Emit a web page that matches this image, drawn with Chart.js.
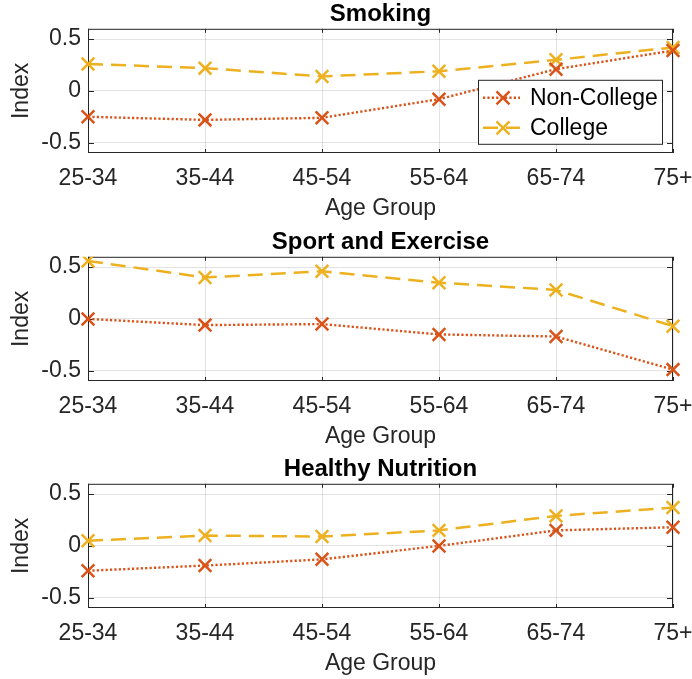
<!DOCTYPE html>
<html>
<head>
<meta charset="utf-8">
<script src="https://cdn.jsdelivr.net/npm/chart.js@4.4.0/dist/chart.umd.min.js"></script>
<style>
    html, body { margin: 0; padding: 0; background: #fff; overflow: hidden; width: 692px; height: 679px; }
    .panel { position: absolute; left: 0; width: 692px; height: 227px; }
</style>
</head>
<body>
<div class="panel" style="top:0px"><canvas id="chart_smoking" width="692" height="227"></canvas></div>
<div class="panel" style="top:228px"><canvas id="chart_sport" width="692" height="227"></canvas></div>
<div class="panel" style="top:455px"><canvas id="chart_nutrition" width="692" height="227"></canvas></div>
<script>
// age groups on the x axis
var ageGroups = ['25-34', '35-44', '45-54', '55-64', '65-74', '75+'];
var yTicks = [-0.5, 0, 0.5];

// Smoking
var smokingNonCollege = [-0.25, -0.28, -0.26, -0.08, 0.21, 0.39];
var smokingCollege = [0.26, 0.22, 0.14, 0.19, 0.30, 0.42];

// Sport and Exercise
var sportNonCollege = [0.00, -0.06, -0.05, -0.15, -0.17, -0.49];
var sportCollege = [0.56, 0.40, 0.46, 0.35, 0.28, -0.07];

// Healthy Nutrition
var nutritionNonCollege = [-0.24, -0.19, -0.13, 0.00, 0.15, 0.18];
var nutritionCollege = [0.05, 0.10, 0.09, 0.15, 0.29, 0.37];

var colNonCollege = '#D95319';
var colCollege = '#EDB120';
var axisColor = '#262626';
var gridColor = 'rgba(38,38,38,0.13)';
var fontFam = '"Liberation Sans", Arial, sans-serif';

// box around the axes + small inward ticks, like matlab
var framePlugin = {
    id: 'frame',
    beforeDatasetsDraw: function (chart) {
        var a = chart.chartArea, ctx = chart.ctx;
        var xs = chart.scales.x, ys = chart.scales.y;
        ctx.save();
        ctx.strokeStyle = axisColor;
        ctx.lineWidth = 1;
        ctx.strokeRect(a.left + 0.5, a.top + 0.5, a.right - a.left - 1, a.bottom - a.top - 1);
        ctx.beginPath();
        yTicks.forEach(function (v) {
            var py = Math.round(ys.getPixelForValue(v)) + 0.5;
            ctx.moveTo(a.left, py); ctx.lineTo(a.left + 6, py);
            ctx.moveTo(a.right, py); ctx.lineTo(a.right - 6, py);
        });
        ageGroups.forEach(function (g, i) {
            var px = Math.round(xs.getPixelForValue(i)) + 0.5;
            ctx.moveTo(px, a.bottom); ctx.lineTo(px, a.bottom - 4);
            ctx.moveTo(px, a.top); ctx.lineTo(px, a.top + 4);
        });
        ctx.stroke();
        ctx.restore();
    }
};

// legend box inside the first panel
var boxLegendPlugin = {
    id: 'boxLegend',
    afterDraw: function (chart, args, opts) {
        if (!opts.show) return;
        var a = chart.chartArea, ctx = chart.ctx;
        var w = 184, h = 64;
        var x0 = a.right - 11 - w, y0 = a.top + 51;
        ctx.save();
        ctx.fillStyle = '#fff';
        ctx.fillRect(x0, y0, w, h);
        ctx.strokeStyle = axisColor;
        ctx.lineWidth = 1;
        ctx.strokeRect(x0 + 0.5, y0 + 0.5, w, h);
        chart.data.datasets.forEach(function (ds, i) {
            var cy = y0 + 18 + i * 30;
            ctx.strokeStyle = ds.borderColor;
            ctx.lineWidth = ds.borderWidth;
            ctx.setLineDash(ds.borderDash);
            ctx.beginPath();
            ctx.moveTo(x0 + 5, cy); ctx.lineTo(x0 + 42, cy);
            ctx.stroke();
            ctx.setLineDash([]);
            var r = 6.5;
            ctx.beginPath();
            ctx.moveTo(x0 + 25 - r, cy - r); ctx.lineTo(x0 + 25 + r, cy + r);
            ctx.moveTo(x0 + 25 - r, cy + r); ctx.lineTo(x0 + 25 + r, cy - r);
            ctx.stroke();
            ctx.fillStyle = '#000';
            ctx.font = '23px ' + fontFam;
            ctx.textBaseline = 'middle';
            ctx.fillText(ds.label, x0 + 52, cy + 1);
        });
        ctx.restore();
    }
};

function makeChart(id, title, nonCollege, college, showLegend) {
    return new Chart(document.getElementById(id), {
        type: 'line',
        data: {
            labels: ageGroups,
            datasets: [{
                label: 'Non-College',
                data: nonCollege,
                borderColor: colNonCollege,
                backgroundColor: colNonCollege,
                borderWidth: 2.4,
                borderDash: [2.2, 2.2],
                pointStyle: 'crossRot',
                pointRadius: 9,
                pointBorderWidth: 2.5,
                fill: false
            }, {
                label: 'College',
                data: college,
                borderColor: colCollege,
                backgroundColor: colCollege,
                borderWidth: 2.5,
                borderDash: [15, 8],
                pointStyle: 'crossRot',
                pointRadius: 9,
                pointBorderWidth: 2.5,
                fill: false
            }]
        },
        options: {
            responsive: false,
            animation: false,
            layout: { autoPadding: false, padding: { left: 0, right: 19, top: 0, bottom: 0 } },
            scales: {
                x: {
                    type: 'category',
                    offset: false,
                    afterFit: function (s) { s.height = 74; s.paddingLeft = 0; s.paddingRight = 0; },
                    grid: { color: gridColor, drawTicks: false, offset: false },
                    border: { display: false },
                    ticks: { color: axisColor, padding: 12, maxRotation: 0, autoSkip: false, font: { family: fontFam, size: 23 } },
                    title: { display: true, text: 'Age Group', color: axisColor, padding: { top: 0, bottom: 5 }, font: { family: fontFam, size: 23 } }
                },
                y: {
                    min: -0.6,
                    max: 0.6,
                    afterFit: function (s) { s.width = 88; s.paddingTop = 0; s.paddingBottom = 0; },
                    afterBuildTicks: function (s) { s.ticks = yTicks.map(function (v) { return { value: v }; }); },
                    grid: { color: gridColor, drawTicks: false },
                    border: { display: false },
                    ticks: {
                        color: axisColor, padding: 7, font: { family: fontFam, size: 23 },
                        callback: function (v) { return v === 0 ? '0' : String(v); }
                    },
                    title: { display: true, text: 'Index', color: axisColor, padding: { top: 8, bottom: 0 }, font: { family: fontFam, size: 23 } }
                }
            },
            plugins: {
                legend: { display: false },
                tooltip: { enabled: false },
                title: {
                    display: true, fullSize: false, text: title, color: '#000',
                    padding: { top: 0, bottom: 0 }, font: { family: fontFam, size: 24, weight: 'bold' }
                },
                boxLegend: { show: showLegend }
            }
        },
        plugins: [framePlugin, boxLegendPlugin]
    });
}

makeChart('chart_smoking', 'Smoking', smokingNonCollege, smokingCollege, true);
makeChart('chart_sport', 'Sport and Exercise', sportNonCollege, sportCollege, false);
makeChart('chart_nutrition', 'Healthy Nutrition', nutritionNonCollege, nutritionCollege, false);
</script>
</body>
</html>
